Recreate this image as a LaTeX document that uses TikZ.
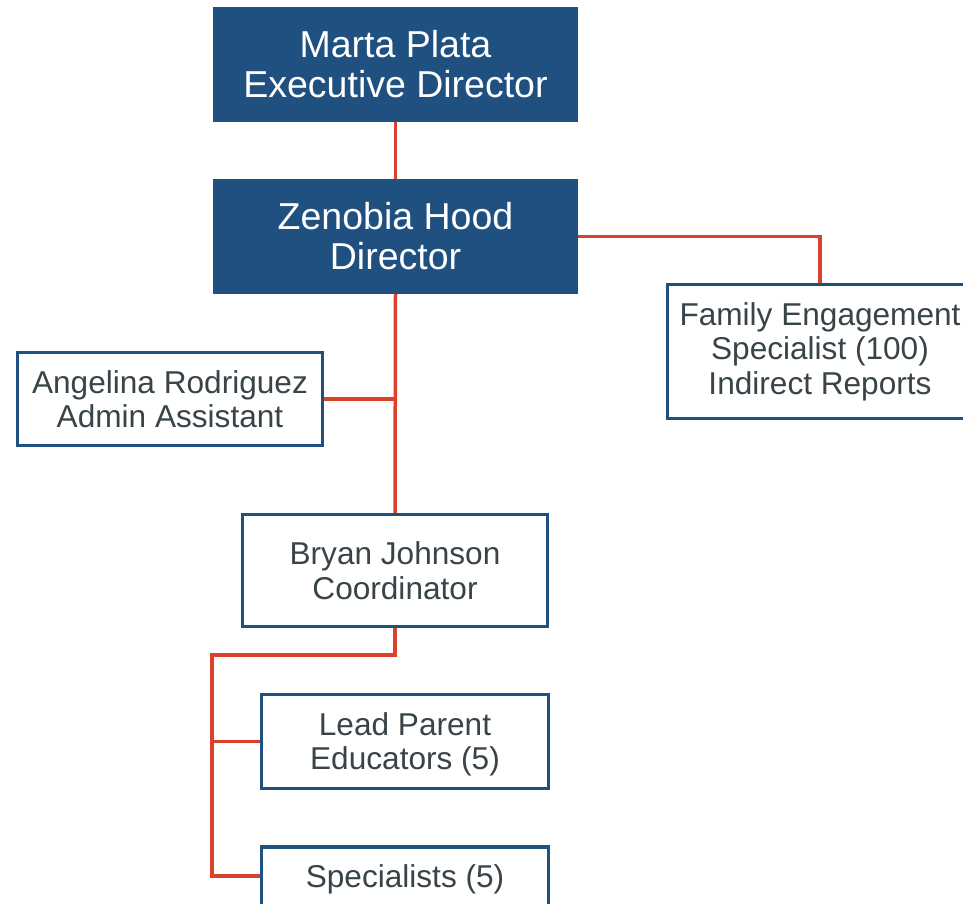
\documentclass[tikz,border=0pt]{standalone}
\usepackage{fontspec}
\setmainfont{Liberation Sans}
\definecolor{boxblue}{HTML}{1F5080}
\definecolor{linered}{HTML}{D9432C}
\definecolor{txtgray}{HTML}{394449}
\tikzset{
  darkbox/.style={rectangle, fill=boxblue, draw=boxblue, line width=1pt, text=white, align=center, inner sep=0pt,
    font=\fontsize{37.5}{40}\selectfont},
  lightbox/.style={rectangle, fill=white, draw=boxblue, line width=3.5pt, text=txtgray, align=center, inner sep=0pt,
    font=\fontsize{31.6}{34.5}\selectfont},
  conn/.style={draw=linered, line width=3.5pt}
}
\begin{document}
\begin{tikzpicture}[x=1pt,y=-1pt]
\fill[white] (0,0) rectangle (963,903);
\useasboundingbox (0,0) rectangle (963,903);
\node[darkbox, minimum width=364pt, minimum height=114pt] (marta) at (395.5,64.5) {Marta Plata\\Executive Director};
\node[darkbox, minimum width=364pt, minimum height=114pt] (zen) at (395.5,236.5) {Zenobia Hood\\Director};
\node[lightbox, minimum width=305pt, minimum height=134pt] (fam) at (820,351.5) {Family Engagement\\Specialist (100)\\Indirect Reports};
\node[lightbox, minimum width=305pt, minimum height=93pt] (ang) at (170,399) {Angelina Rodriguez\\Admin Assistant};
\node[lightbox, minimum width=305pt, minimum height=112pt] (bryan) at (395,570.5) {Bryan Johnson\\Coordinator};
\node[lightbox, minimum width=287pt, minimum height=94pt] (lead) at (405,741.5) {\raisebox{-4pt}[\height][\depth]{\begin{tabular}{@{}c@{}}Lead Parent\\Educators (5)\end{tabular}}};
\node[lightbox, minimum width=287pt, minimum height=64pt] (spec) at (405,879) {Specialists (5)};
\coordinate (trunk) at (212,655);
\coordinate (specin) at ([yshift=3pt]spec.west);
\draw[conn] (marta.south) -- (zen.north);
\draw[conn] (zen.east) -| (fam.north);
\draw[conn] (zen.south) -- (bryan.north);
\draw[conn] (ang.east) -- (ang.east -| zen.south);
\draw[conn] (bryan.south) |- (trunk) |- (specin);
\draw[conn] (lead.west) -- (lead.west -| trunk);
\end{tikzpicture}
\end{document}
